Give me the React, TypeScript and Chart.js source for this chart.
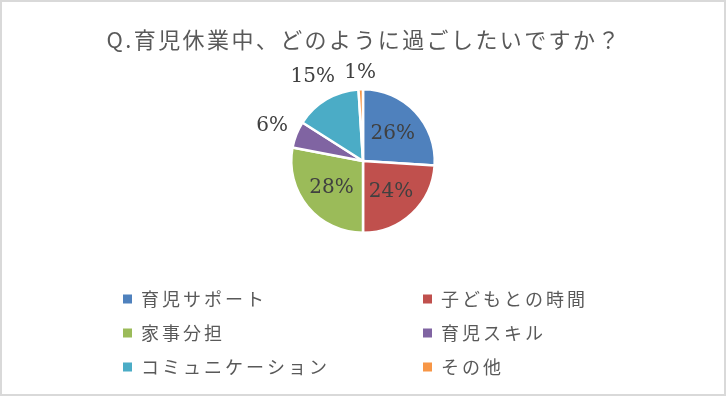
import React, { useEffect, useRef } from "react";
import { Chart, registerables } from "chart.js";

Chart.register(...registerables);

const TITLE = "Q.育児休業中、どのように過ごしたいですか？";
const CATEGORIES = ["育児サポート", "子どもとの時間", "家事分担", "育児スキル", "コミュニケーション", "その他"];
const VALUES = [26, 24, 28, 6, 15, 1];
const COLORS = ["#4F81BD", "#C0504D", "#9BBB59", "#8064A2", "#4BACC6", "#F79646"];

const W = 726;
const H = 396;

const decorPlugin = {
  id: "decor",
  beforeDraw(chart: any) {
    const ctx = chart.ctx as CanvasRenderingContext2D;
    ctx.save();
    ctx.fillStyle = "#ffffff";
    ctx.fillRect(0, 0, W, H);
    ctx.strokeStyle = "#d9d9d9";
    ctx.lineWidth = 2;
    ctx.strokeRect(1, 1, W - 2, H - 2);
    ctx.restore();
  },
  afterDraw(chart: any) {
    const ctx = chart.ctx as CanvasRenderingContext2D;
    ctx.save();
    // Title
    ctx.fillStyle = "#595959";
    ctx.font = '22px "Noto Sans CJK JP"';
    (ctx as any).letterSpacing = "2.4px";
    ctx.textBaseline = "middle";
    ctx.textAlign = "left";
    const tw = ctx.measureText(TITLE).width - 2.4;
    ctx.fillText(TITLE, W / 2 - tw / 2, 40);

    // Data labels
    (ctx as any).letterSpacing = "0px";
    const total = VALUES.reduce((a, b) => a + b, 0);
    const meta = chart.getDatasetMeta(0);
    ctx.font = '20px "DejaVu Serif"';
    ctx.fillStyle = "#404040";
    ctx.textAlign = "center";
    ctx.textBaseline = "middle";
    meta.data.forEach((arc: any, i: number) => {
      const p = arc.getProps(["x", "y", "startAngle", "endAngle", "outerRadius"], true);
      const mid = (p.startAngle + p.endAngle) / 2;
      const frac = VALUES[i] / total;
      const label = Math.round(frac * 100) + "%";
      const w = ctx.measureText(label).width;
      const h = 18;
      const dx = Math.cos(mid);
      const dy = Math.sin(mid);
      let cx: number, cy: number;
      if (frac >= 0.2) {
        cx = p.x + dx * p.outerRadius * 0.57;
        cy = p.y + dy * p.outerRadius * 0.57;
      } else {
        const ext = Math.abs(dx) * w / 2 + Math.abs(dy) * h / 2;
        const d = p.outerRadius + 8 + ext;
        cx = p.x + dx * d;
        cy = p.y + dy * d;
      }
      ctx.fillText(label, cx, cy + 1);
    });

    // Legend (two columns)
    const colX = [123, 423];
    const rowY = [299, 333, 367];
    ctx.font = '18px "Noto Sans CJK JP"';
    (ctx as any).letterSpacing = "3px";
    ctx.textAlign = "left";
    ctx.textBaseline = "middle";
    CATEGORIES.forEach((name, i) => {
      const x = colX[i % 2];
      const y = rowY[Math.floor(i / 2)];
      ctx.fillStyle = COLORS[i];
      ctx.fillRect(x, y - 4.5, 9, 9);
      ctx.fillStyle = "#595959";
      ctx.fillText(name, x + 18, y);
    });
    ctx.restore();
  },
};

export default function App() {
  const ref = useRef<HTMLCanvasElement | null>(null);
  useEffect(() => {
    document.body.style.margin = "0";
    if (!ref.current) return;
    const chart = new Chart(ref.current, {
      type: "pie",
      data: {
        labels: CATEGORIES,
        datasets: [
          {
            data: VALUES,
            backgroundColor: COLORS,
            borderColor: "#ffffff",
            borderWidth: 2.5,
            hoverOffset: 0,
          },
        ],
      },
      options: {
        responsive: false,
        animation: false,
        events: [],
        layout: { padding: { top: 88, bottom: 162, left: 290, right: 290 } },
        plugins: {
          legend: { display: false },
          title: { display: false },
          tooltip: { enabled: false },
        },
      },
      plugins: [decorPlugin],
    });
    return () => chart.destroy();
  }, []);
  return (
    <div style={{ width: W, height: H }}>
      <canvas ref={ref} width={W} height={H} style={{ display: "block", width: W, height: H }} />
    </div>
  );
}
